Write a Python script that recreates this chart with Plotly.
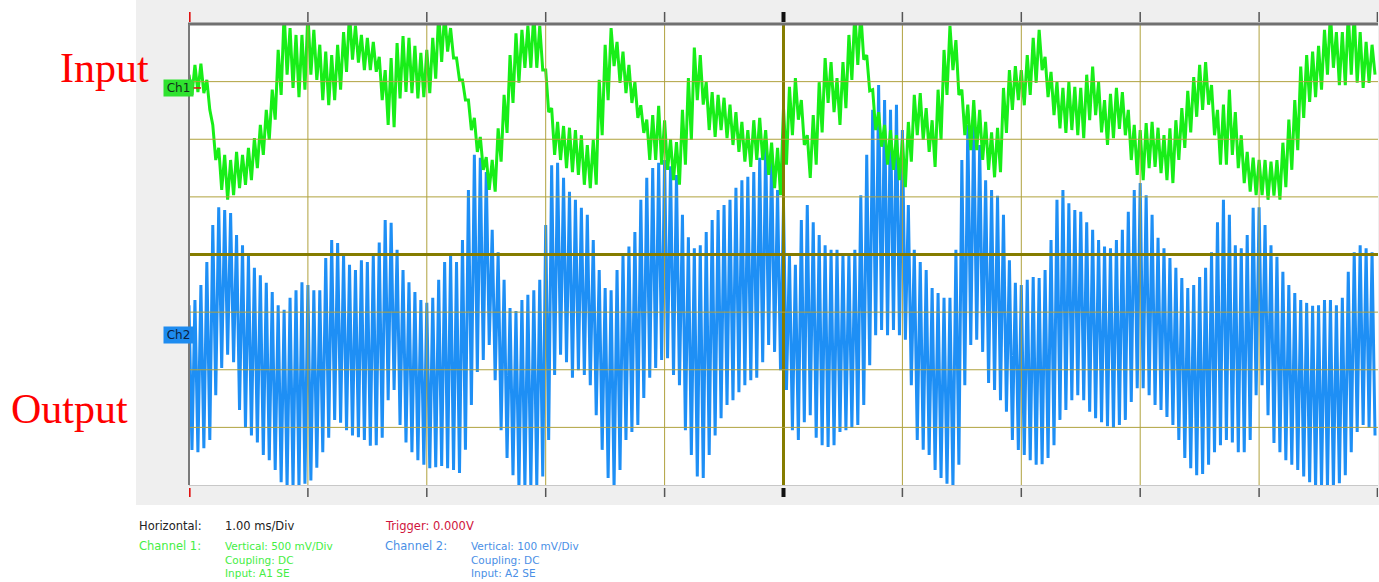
import numpy as np
import plotly.graph_objects as go

# ---- captured samples (screen divisions), 20 per horizontal division ----
# Channel 1 (input): successive local maxima / minima of the noisy trace
ch1_hi = [
    3.12, 3.29, 3.31, 3.03, 2.25, 1.85, 1.73, 1.64, 1.78, 1.73, 1.85, 2.02, 2.25, 2.51, 2.86, 3.55, 4.2, 3.93, 3.81, 3.81,
    4.2, 3.90, 3.64, 3.52, 3.46, 3.64, 3.86, 4.2, 3.97, 3.81, 3.76, 3.69, 3.43, 3.20, 3.41, 3.67, 3.79, 3.76, 3.62, 3.50,
    3.55, 3.76, 4.2, 4.2, 3.93, 3.41, 3.03, 2.68, 2.37, 2.04, 1.69, 1.64, 2.19, 2.77, 3.46, 3.84, 3.90, 3.97, 4.2, 3.97,
    3.20, 2.54, 2.30, 2.23, 2.20, 2.16, 2.07, 1.90, 1.99, 3.03, 3.64, 3.93, 3.69, 3.52, 3.29, 2.99, 2.59, 2.34, 2.42, 2.58,
    2.33, 2.00, 1.95, 2.51, 3.06, 3.59, 3.46, 2.99, 2.82, 2.77, 2.72, 2.60, 2.47, 2.30, 2.16, 2.33, 2.37, 2.16, 1.94, 1.85,
    2.54, 2.91, 3.06, 2.68, 2.07, 2.42, 2.99, 3.41, 3.34, 3.06, 3.34, 3.81, 4.2, 4.2, 3.46, 2.86, 2.47, 2.25, 2.16, 2.07,
    1.99, 2.30, 2.77, 2.80, 2.54, 2.33, 2.86, 3.55, 3.97, 3.72, 2.86, 2.60, 2.68, 2.51, 2.30, 2.12, 2.20, 2.89, 3.20, 3.27,
    3.20, 3.46, 3.76, 3.90, 3.43, 3.17, 2.99, 2.89, 2.99, 2.91, 2.89, 3.12, 3.26, 2.99, 2.68, 2.79, 2.89, 2.82, 2.51, 2.25,
    2.16, 2.28, 2.30, 2.20, 2.07, 2.19, 2.33, 2.54, 2.84, 3.08, 3.29, 3.34, 2.94, 2.51, 2.60, 2.86, 2.47, 2.07, 1.78, 1.68,
    1.64, 1.64, 1.61, 1.64, 1.94, 2.34, 2.68, 3.26, 3.46, 3.52, 3.62, 3.90, 4.2, 3.86, 3.86, 4.2, 4.2, 3.86, 3.69, 3.64,
]
ch1_lo = [
    2.77, 2.82, 2.80, 2.51, 1.64, 1.12, 0.95, 1.03, 1.15, 1.21, 1.29, 1.50, 1.73, 1.99, 2.34, 2.77, 3.12, 2.89, 2.73, 2.86,
    3.12, 3.03, 2.68, 2.59, 2.68, 2.86, 3.17, 3.38, 3.33, 3.20, 3.20, 3.17, 2.68, 2.25, 2.21, 2.71, 2.82, 2.80, 2.71, 2.73,
    2.80, 3.05, 3.34, 3.52, 3.41, 3.03, 2.68, 2.16, 1.78, 1.47, 1.12, 1.09, 1.61, 2.11, 2.63, 2.98, 3.24, 3.24, 3.24, 3.20,
    2.47, 1.73, 1.64, 1.50, 1.43, 1.38, 1.21, 1.15, 1.21, 2.07, 2.68, 3.27, 2.98, 2.80, 2.63, 2.37, 2.11, 1.64, 1.64, 1.56,
    1.47, 1.29, 1.21, 1.56, 1.99, 2.68, 2.60, 2.16, 2.04, 2.16, 2.02, 1.90, 1.78, 1.61, 1.52, 1.64, 1.64, 1.38, 1.15, 1.03,
    1.56, 2.07, 2.34, 1.90, 1.33, 1.56, 2.12, 2.63, 2.47, 2.25, 2.54, 3.03, 3.29, 3.38, 2.84, 2.16, 1.87, 1.56, 1.47, 1.29,
    1.17, 1.61, 2.07, 1.99, 1.78, 1.52, 1.99, 2.77, 3.20, 2.77, 2.07, 1.81, 1.81, 1.64, 1.47, 1.34, 1.43, 2.11, 2.51, 2.68,
    2.59, 2.77, 2.98, 3.20, 2.73, 2.42, 2.19, 2.11, 2.16, 2.07, 2.02, 2.33, 2.42, 2.12, 1.90, 2.02, 2.18, 2.07, 1.64, 1.38,
    1.29, 1.50, 1.52, 1.41, 1.29, 1.24, 1.64, 1.85, 2.12, 2.39, 2.51, 2.60, 2.07, 1.56, 1.56, 1.73, 1.50, 1.24, 1.09, 1.03,
    1.03, 0.95, 1.02, 0.95, 1.17, 1.47, 1.81, 2.37, 2.65, 2.73, 2.86, 3.12, 3.24, 2.94, 2.94, 3.12, 2.98, 2.89, 2.98, 3.12,
]

# Channel 2 (output): successive peaks / troughs of the carrier
ch2_hi = [
    -0.88, -0.79, -0.53, -0.13, 0.51, 0.82, 0.77, 0.72, 0.34, 0.16, -0.01, -0.23, -0.36, -0.49, -0.65, -0.88, -0.96, -0.75, -0.62, -0.48,
    -0.53, -0.62, -0.62, -0.06, 0.25, 0.20, -0.01, -0.18, -0.27, -0.10, -0.13, -0.01, 0.21, 0.60, 0.55, 0.08, -0.27, -0.48, -0.65, -0.79,
    -0.84, -0.75, -0.44, -0.13, -0.01, -0.13, 0.25, 1.12, 1.73, 1.68, 1.43, 0.43, 0.04, -0.44, -0.93, -0.98, -0.79, -0.70, -0.62, -0.44,
    0.51, 1.55, 1.59, 1.33, 1.09, 0.95, 0.81, 0.69, 0.25, -0.27, -0.58, -0.62, -0.27, -0.01, 0.14, 0.39, 0.95, 1.33, 1.50, 1.59,
    1.64, 1.53, 1.38, 0.69, 0.30, 0.11, 0.16, 0.39, 0.60, 0.77, 0.86, 0.95, 1.16, 1.29, 1.35, 1.43, 1.68, 1.95, 1.73, 1.12,
    0.86, -0.01, -0.18, 0.60, 0.86, 0.56, 0.34, 0.16, 0.08, 0.08, -0.01, -0.01, 0.08, 1.03, 1.73, 2.51, 2.94, 2.68, 2.51, 2.60,
    2.16, 0.86, 0.08, -0.13, -0.27, -0.58, -0.67, -0.75, -0.75, 0.08, 1.64, 2.25, 2.34, 1.90, 1.29, 1.12, 1.02, 0.69, -0.10, -0.49,
    -0.53, -0.44, -0.39, -0.41, -0.27, 0.25, 0.95, 1.12, 0.89, 0.77, 0.74, 0.56, 0.43, 0.25, 0.14, 0.11, 0.25, 0.43, 0.74, 1.12,
    1.24, 1.03, 0.69, 0.29, 0.11, -0.06, -0.23, -0.41, -0.58, -0.53, -0.39, -0.23, 0.04, 0.56, 0.95, 0.69, 0.16, 0.11, 0.34, 0.81,
    0.82, 0.51, 0.16, -0.04, -0.30, -0.53, -0.67, -0.79, -0.84, -0.89, -0.88, -0.79, -0.79, -0.88, -0.75, -0.30, 0.04, 0.16, 0.11, 0.04,
]
ch2_lo = [
    -3.39, -3.43, -3.36, -3.22, -2.44, -1.97, -1.74, -1.87, -2.70, -3.01, -3.14, -3.26, -3.48, -3.57, -3.74, -3.95, -4.05, -4.05, -4.05, -3.98,
    -3.92, -3.70, -3.43, -3.18, -2.87, -2.92, -3.05, -3.14, -3.17, -3.22, -3.32, -3.31, -3.18, -2.53, -2.35, -2.96, -3.26, -3.43, -3.57, -3.65,
    -3.71, -3.69, -3.67, -3.71, -3.74, -3.79, -3.39, -2.61, -2.04, -1.83, -1.57, -2.18, -3.05, -3.53, -3.83, -4.05, -4.05, -4.05, -4.02, -3.85,
    -3.22, -2.09, -1.74, -1.87, -2.14, -2.01, -2.09, -2.27, -2.79, -3.39, -3.88, -4.05, -3.74, -3.22, -3.08, -2.96, -2.49, -2.14, -1.97, -1.83,
    -1.80, -2.09, -2.27, -3.05, -3.48, -3.85, -3.88, -3.48, -3.14, -2.84, -2.61, -2.53, -2.39, -2.27, -2.18, -2.14, -1.87, -1.57, -1.69, -2.01,
    -2.35, -3.05, -3.22, -2.91, -2.79, -3.18, -3.31, -3.34, -3.31, -3.08, -3.05, -3.01, -2.96, -2.61, -1.92, -1.40, -1.31, -1.40, -1.31, -1.40,
    -1.48, -2.27, -3.22, -3.39, -3.48, -3.74, -3.88, -3.98, -4.05, -3.65, -2.27, -1.57, -1.48, -1.69, -2.23, -2.35, -2.53, -2.73, -3.22, -3.39,
    -3.48, -3.57, -3.65, -3.64, -3.53, -3.31, -2.87, -2.70, -2.53, -2.44, -2.53, -2.73, -2.84, -2.91, -2.98, -3.01, -2.96, -2.87, -2.56, -2.32,
    -2.32, -2.44, -2.61, -2.70, -2.82, -2.96, -3.22, -3.53, -3.71, -3.83, -3.81, -3.65, -3.43, -3.31, -3.22, -3.26, -3.43, -3.43, -3.22, -2.44,
    -2.27, -2.79, -3.27, -3.43, -3.57, -3.65, -3.74, -3.85, -3.95, -4.05, -4.05, -4.05, -4.05, -3.97, -3.83, -3.43, -3.08, -2.96, -3.01, -3.14,
]

time_divs = [-5, -4, -3, -2, -1, 0, 1, 2, 3, 4, 5]       # 1.00 ms/Div
volt_divs = [-4, -3, -2, -1, 0, 1, 2, 3, 4]
ch1_ref_div = 2.89      # Ch1 ground marker
ch2_ref_div = -1.4      # Ch2 ground marker

info_lines = {
    "horizontal": ("Horizontal:", "1.00 ms/Div"),
    "trigger": "Trigger: 0.000V",
    "ch1": ("Channel 1:", ["Vertical: 500 mV/Div", "Coupling: DC", "Input: A1 SE"]),
    "ch2": ("Channel 2:", ["Vertical: 100 mV/Div", "Coupling: DC", "Input: A2 SE"]),
}

# ---- page geometry ----
W, H = 1379, 582
PL, PR, PT, PB = 189, 1378, 24, 485


def fx(px):
    return (px - PL) / (PR - PL)


def fy(py):
    return (PB - py) / (PB - PT)


def interleave(hi, lo, step=0.05):
    n = len(hi)
    t = -5 + step * np.arange(n)
    x = np.column_stack([t, t + step / 2]).ravel()
    y = np.column_stack([hi, lo]).ravel()
    return x, y


fig = go.Figure()

x2, y2 = interleave(ch2_hi, ch2_lo)
fig.add_trace(go.Scatter(x=x2, y=y2, mode="lines", line=dict(color="#1e8ff5", width=3.0, simplify=False),
                         hoverinfo="skip", showlegend=False))
x1, y1 = interleave(ch1_hi, ch1_lo)
fig.add_trace(go.Scatter(x=x1, y=y1, mode="lines", line=dict(color="#18ee18", width=3.0, simplify=False),
                         hoverinfo="skip", showlegend=False))

shapes = []
# instrument panel and screen
shapes.append(dict(type="rect", xref="paper", yref="paper", x0=fx(136), x1=fx(1381), y0=fy(505), y1=fy(-2),
                   fillcolor="#efefef", line=dict(width=0), layer="below"))
shapes.append(dict(type="rect", xref="paper", yref="paper", x0=0, x1=1, y0=0, y1=1,
                   fillcolor="white", line=dict(width=0), layer="below"))

GRID = "#b0a23e"
CENTER = "#857c00"
for v in time_divs:
    if v in (-5, 5):
        continue
    shapes.append(dict(type="line", xref="x", yref="paper", x0=v, x1=v, y0=0, y1=1, layer="above",
                       line=dict(color=CENTER if v == 0 else GRID, width=3 if v == 0 else 1)))
for v in volt_divs:
    if v in (-4, 4):
        continue
    shapes.append(dict(type="line", xref="paper", yref="y", x0=0, x1=1, y0=v, y1=v, layer="above",
                       line=dict(color=CENTER if v == 0 else GRID, width=3 if v == 0 else 1)))

# screen border
shapes.append(dict(type="line", xref="paper", yref="paper", x0=fx(188), x1=1, y0=fy(24), y1=fy(24),
                   line=dict(color="#707070", width=3), layer="above"))
shapes.append(dict(type="line", xref="paper", yref="paper", x0=fx(189), x1=fx(189), y0=fy(485), y1=fy(24),
                   line=dict(color="#7a7a7a", width=2), layer="above"))
shapes.append(dict(type="line", xref="paper", yref="paper", x0=fx(189), x1=1, y0=fy(485.5), y1=fy(485.5),
                   line=dict(color="#c8c8c8", width=1), layer="above"))

# division ticks above and below the screen
for v in time_divs:
    if v == -5:
        col, w = "#e01010", 3
    elif v == 0:
        col, w = "#111111", 4
    else:
        col, w = "#555555", 1.5
    x = min(max(v, -4.999), 4.995)
    shapes.append(dict(type="line", xref="x", yref="paper", x0=x, x1=x, y0=fy(22), y1=fy(12),
                       line=dict(color=col, width=w), layer="above"))
    shapes.append(dict(type="line", xref="x", yref="paper", x0=x, x1=x, y0=fy(497), y1=fy(488),
                       line=dict(color=col, width=w), layer="above"))

# channel markers
shapes.append(dict(type="line", xref="paper", yref="y", x0=fx(177), x1=fx(189), y0=ch1_ref_div, y1=ch1_ref_div,
                   line=dict(color="#555555", width=1)))
shapes.append(dict(type="line", xref="paper", yref="y", x0=fx(189), x1=fx(201), y0=ch1_ref_div, y1=ch1_ref_div,
                   line=dict(color="#e01010", width=1.5), layer="above"))
shapes.append(dict(type="line", xref="paper", yref="y", x0=fx(177), x1=fx(189), y0=ch2_ref_div, y1=ch2_ref_div,
                   line=dict(color="#555555", width=1)))

annotations = []
annotations.append(dict(xref="paper", yref="y", x=fx(162.5), y=ch1_ref_div, text="Ch1", showarrow=False,
                        bgcolor="#2fe22f", width=29, height=16, borderpad=0,
                        font=dict(family="DejaVu Sans", size=12, color="#10301a")))
annotations.append(dict(xref="paper", yref="y", x=fx(162.5), y=ch2_ref_div, text="Ch2", showarrow=False,
                        bgcolor="#1e8cf0", width=29, height=16, borderpad=0,
                        font=dict(family="DejaVu Sans", size=12, color="#0c2240")))

serif = dict(family="Liberation Serif, Times New Roman, serif", size=42, color="#ff0000")
annotations.append(dict(xref="paper", yref="paper", x=fx(104), y=fy(68), text="Input", showarrow=False,
                        xanchor="center", yanchor="middle", font=serif))
annotations.append(dict(xref="paper", yref="paper", x=fx(69), y=fy(409), text="Output", showarrow=False,
                        xanchor="center", yanchor="middle", font=serif))


def info(px, py, text, color, size=11.5, yanchor="middle"):
    annotations.append(dict(xref="paper", yref="paper", x=fx(px), y=fy(py), text=text, showarrow=False,
                            xanchor="left", yanchor=yanchor, align="left",
                            font=dict(family="DejaVu Sans", size=size, color=color)))


info(137, 526, info_lines["horizontal"][0], "#222222")
info(223, 526, info_lines["horizontal"][1], "#222222")
info(383, 526, info_lines["trigger"], "#d0143c")
info(137, 546, info_lines["ch1"][0], "#44ee44")
info(223, 537.5, "<br>".join(info_lines["ch1"][1]), "#44ee44", size=10.5, yanchor="top")
info(383, 546, info_lines["ch2"][0], "#4a8fe6")
info(469, 537.5, "<br>".join(info_lines["ch2"][1]), "#4a8fe6", size=10.5, yanchor="top")

fig.update_layout(
    width=W, height=H,
    margin=dict(l=PL, r=W - PR, t=PT, b=H - PB, pad=0),
    paper_bgcolor="white", plot_bgcolor="white",
    xaxis=dict(range=[-5, 5], visible=False, fixedrange=True),
    yaxis=dict(range=[-4, 4], visible=False, fixedrange=True),
    shapes=shapes, annotations=annotations, showlegend=False,
)

fig.write_html("out.html")
